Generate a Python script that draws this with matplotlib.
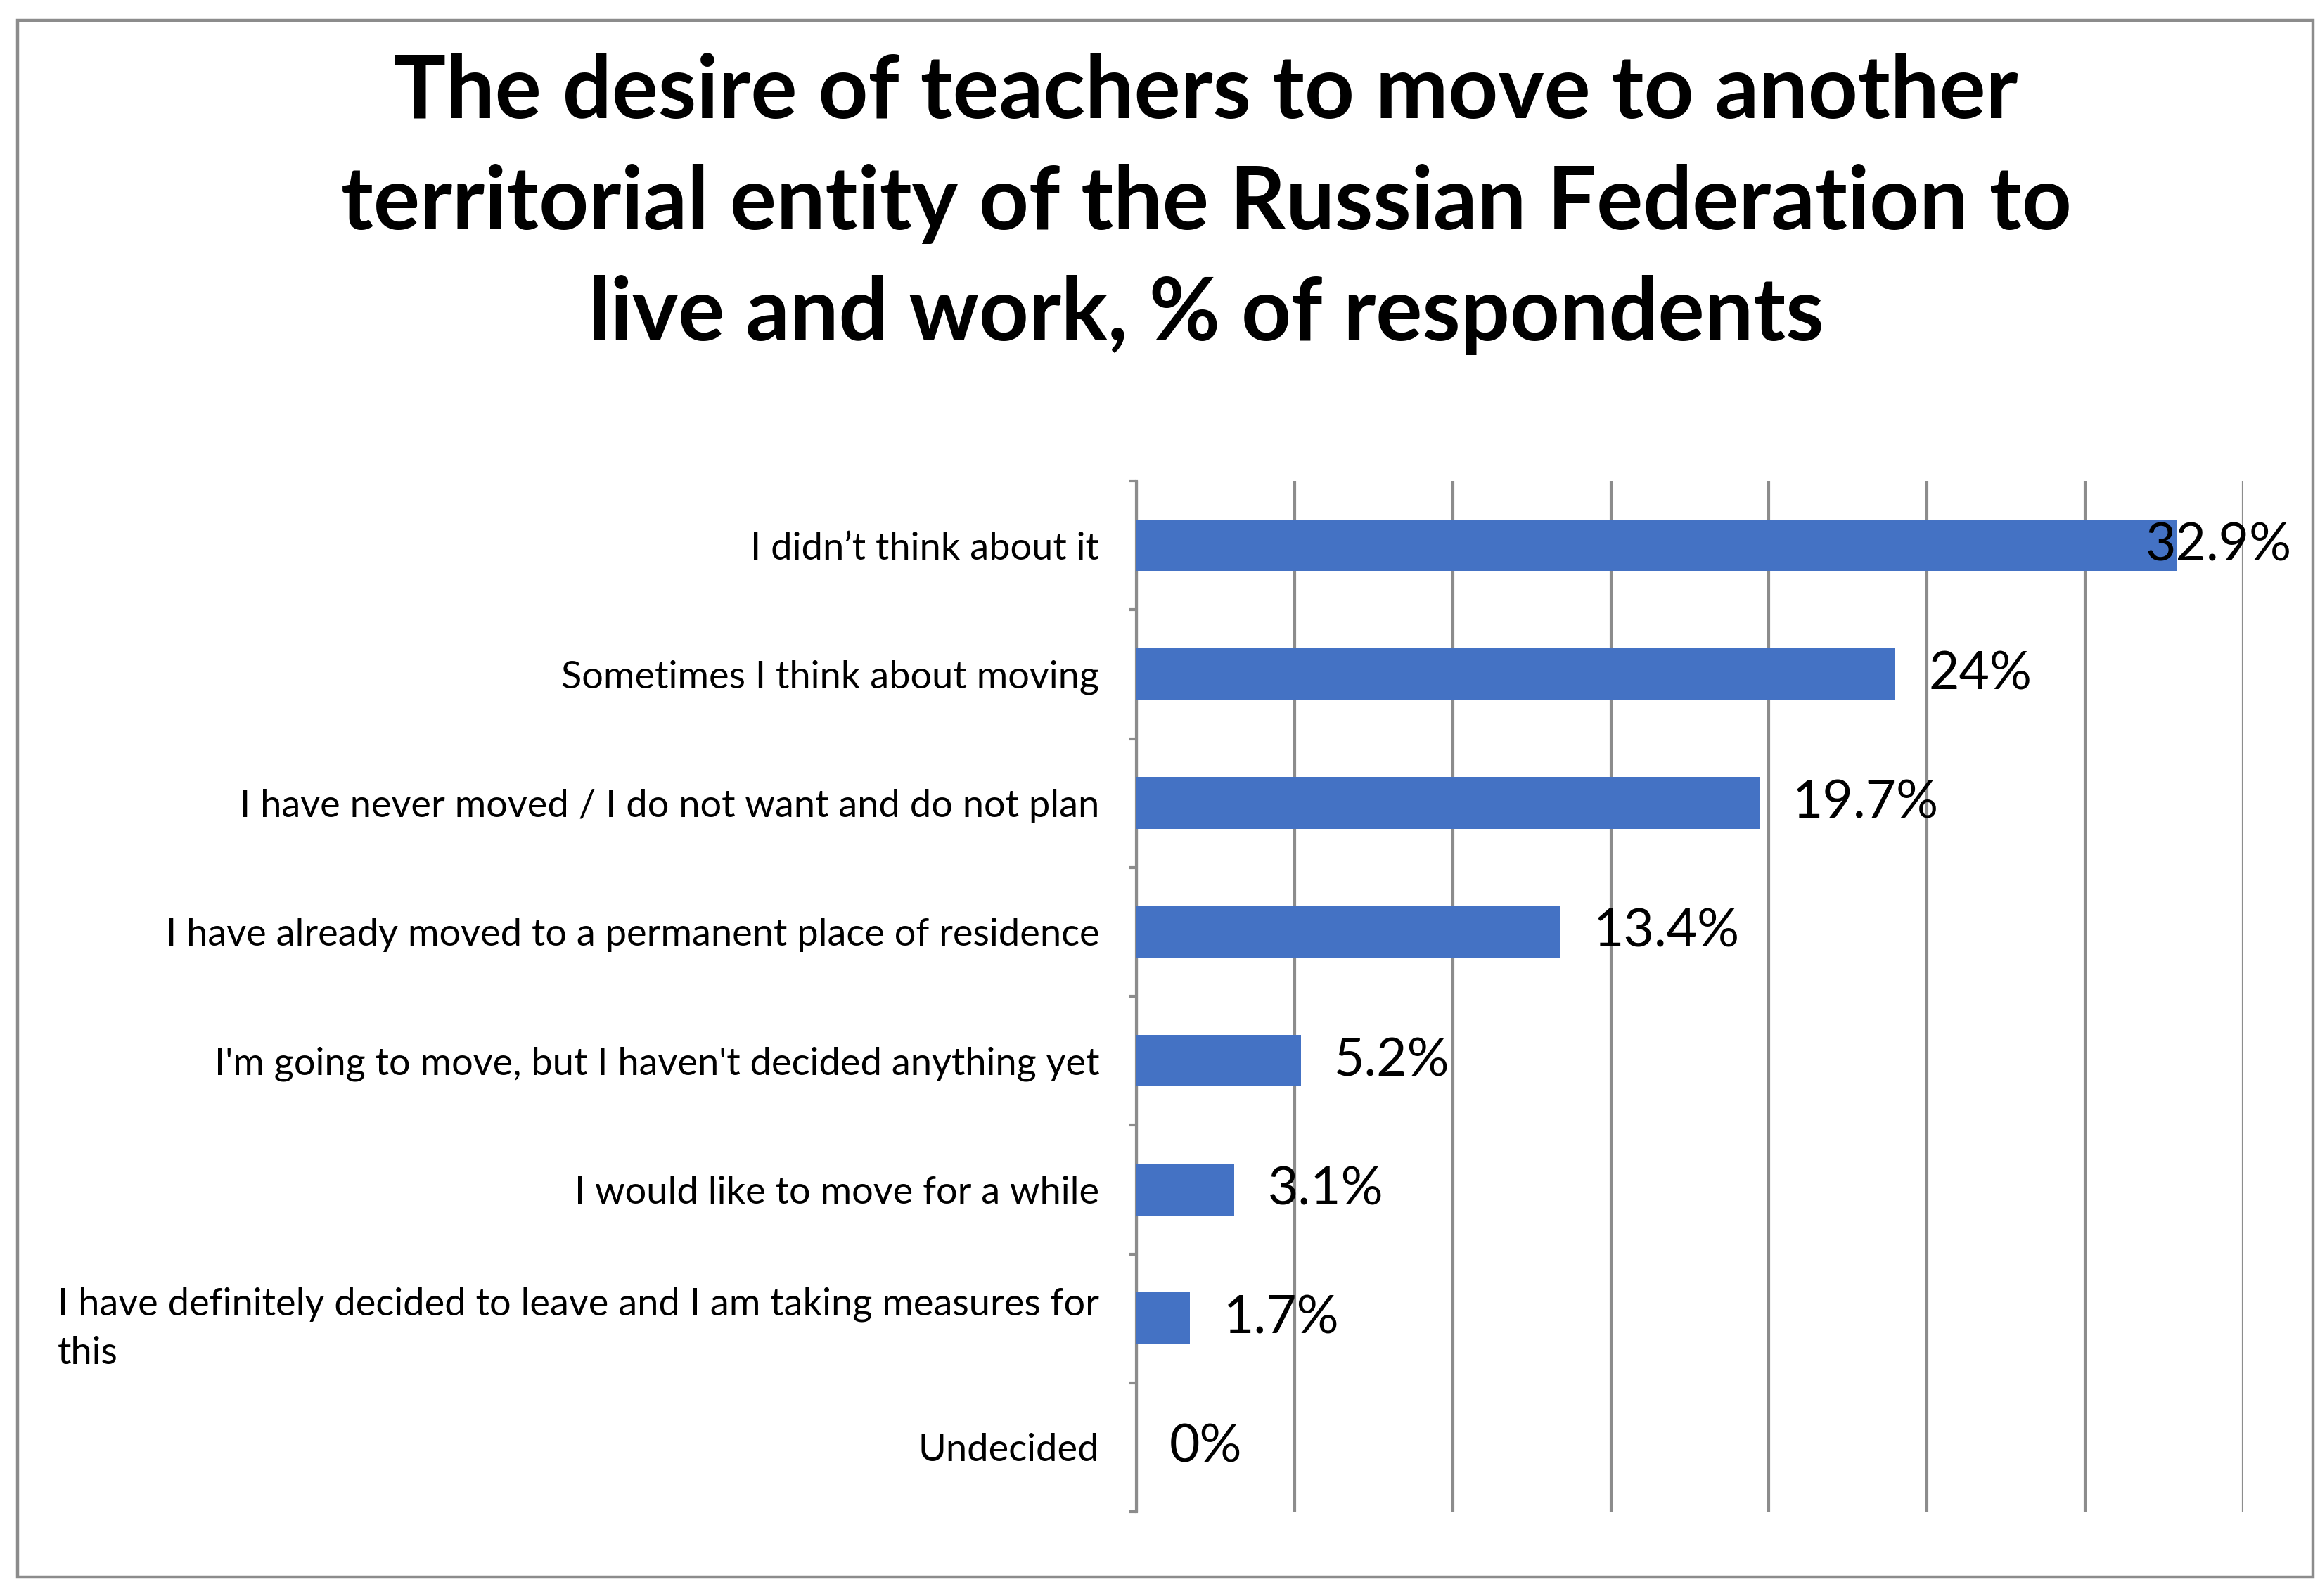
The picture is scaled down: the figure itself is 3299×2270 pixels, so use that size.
import matplotlib
matplotlib.use("Agg")
import matplotlib.pyplot as plt
from matplotlib.patches import Rectangle

categories = [
    "I didn\u2019t think about it",
    "Sometimes I think about moving",
    "I have never moved / I do not want and do not plan",
    "I have already moved to a permanent place of residence",
    "I'm going to move, but I haven't decided anything yet",
    "I would like to move for a while",
    "I have definitely decided to leave and I am taking measures for\nthis",
    "Undecided",
]
values = [32.9, 24, 19.7, 13.4, 5.2, 3.1, 1.7, 0]
value_labels = ["32.9%", "24%", "19.7%", "13.4%", "5.2%", "3.1%", "1.7%", "0%"]
title = ("The desire of teachers to move to another\n"
         "territorial entity of the Russian Federation to\n"
         "live and work, % of respondents")

FONT = ["Lato", "DejaVu Sans"]
plt.rcParams['font.family'] = FONT

W, H = 3299, 2270
dpi = 200
fig = plt.figure(figsize=(W / dpi, H / dpi), dpi=dpi)
fig.patch.set_facecolor("white")

# outer border
fig.patches.append(Rectangle((25 / W, 1 - 2243 / H), (3289 - 25) / W, (2243 - 29) / H,
                             transform=fig.transFigure, fill=False,
                             edgecolor="#8c8c8c", linewidth=1.6))

ax = fig.add_axes([1616 / W, 1 - 2150 / H, (3190 - 1616) / W, (2150 - 684) / H])
ypos = list(range(len(categories)))
ax.barh(ypos, values, height=0.40, color="#4472C4", zorder=3)

ax.set_xlim(0, 35)
ax.set_ylim(len(categories) - 0.5, -0.5)
ax.set_xticks(range(0, 36, 5))
ax.tick_params(axis='x', length=0, labelbottom=False)
ax.grid(axis='x', color="#8c8c8c", linewidth=1.5, zorder=0)

ax.set_yticks(ypos)
ax.set_yticklabels(categories, fontsize=19.5, color="black", ha='right', multialignment='left')
for lbl in ax.get_yticklabels():
    lbl.set_linespacing(1.5)
ax.tick_params(axis='y', which='major', length=0, pad=19)
ax.set_yticks([i - 0.5 for i in range(len(categories) + 1)], minor=True)
ax.tick_params(axis='y', which='minor', length=4, width=1.5, color="#8c8c8c", direction='out')

for s in ['top', 'right', 'bottom']:
    ax.spines[s].set_visible(False)
ax.spines['left'].set_color("#8c8c8c")
ax.spines['left'].set_linewidth(1.5)

for i, (v, lab) in enumerate(zip(values, value_labels)):
    off = -16 if i == 0 else 17
    ax.annotate(lab, xy=(v, i), xytext=(off, 0), textcoords='offset points',
                ha='left', va='center', fontsize=27, color="black", zorder=5)

fig.text(1715 / W, 1 - 290 / H, title, ha='center', va='center', fontsize=44.5,
         fontweight='bold', color="black", linespacing=1.47)

fig.savefig("out.png", dpi=dpi, facecolor="white")
